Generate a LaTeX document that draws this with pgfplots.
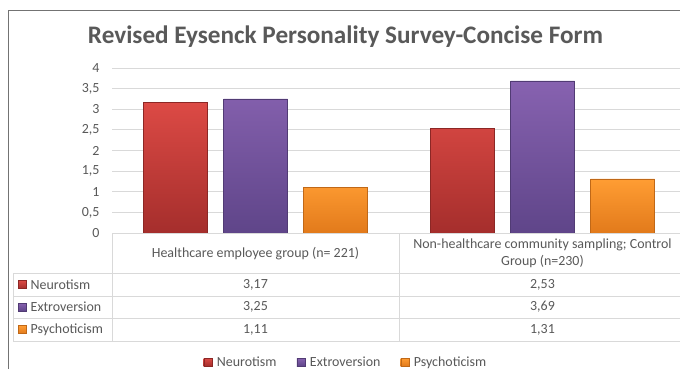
\documentclass[border=0pt]{standalone}
\usepackage{pgfplots}
\pgfplotsset{compat=1.18}
\usepackage{fontspec}
\setmainfont{Carlito}
\definecolor{txt}{HTML}{595959}
\definecolor{gridc}{HTML}{D9D9D9}
\definecolor{redT}{HTML}{DC4A45}
\definecolor{redB}{HTML}{A52E2C}
\definecolor{purT}{HTML}{8762B0}
\definecolor{purB}{HTML}{5F4589}
\definecolor{orT}{HTML}{FF9D33}
\definecolor{orB}{HTML}{E27A1B}
\begin{document}
\begin{tikzpicture}[x=1bp,y=1bp]
\fill[white] (0,0) rectangle (680,369);
\draw[color=black!55, line width=1bp] (8,0) -- (8,358) -- (690,358);
\node[font=\fontsize{25.3}{29}\selectfont\bfseries, text=txt, anchor=base] at (345.5,326) {Revised Eysenck Personality Survey-Concise Form};
\begin{axis}[
  at={(112bp,136bp)}, anchor=south west,
  scale only axis, width=574bp, height=165bp,
  xmin=-0.5, xmax=1.5, ymin=0, ymax=4,
  ybar=16bp, bar width=64bp,
  xtick=\empty,
  ytick={0,0.5,1,1.5,2,2.5,3,3.5,4},
  ymajorgrids, grid style={gridc, line width=0.8bp},
  axis line style={draw=none},
  major tick length=0pt,
  yticklabel style={font=\fontsize{14}{16}\selectfont, text=txt, xshift=-9bp,
    /pgf/number format/use comma, /pgf/number format/fixed,
    /pgf/number format/assume math mode=true},
  legend style={at={(0.4075,-0.782)}, anchor=center, draw=none, fill=none,
    font=\fontsize{14}{16}\selectfont, text=txt, inner sep=0pt,
    /tikz/every odd column/.append style={column sep=3bp},
    /tikz/every even column/.append style={column sep=18bp}},
  legend columns=-1,
  legend image code/.code={\path[#1] (0bp,-4bp) rectangle (8bp,4bp);},
  clip=false,
]
\addplot[draw=redB!85!black, top color=redT, bottom color=redB] coordinates {(0,3.17) (1,2.53)};
\addplot[draw=purB!85!black, top color=purT, bottom color=purB] coordinates {(0,3.25) (1,3.69)};
\addplot[draw=orB!85!black, top color=orT, bottom color=orB] coordinates {(0,1.11) (1,1.31)};
\legend{Neurotism, Extroversion, Psychoticism}
\end{axis}
\begin{scope}[draw=gridc, line width=0.8bp]
\draw (112,136) -- (690,136);
\foreach \y in {96,73,51,28} \draw (13,\y) -- (690,\y);
\draw (13,96) -- (13,28);
\draw (112,136) -- (112,28);
\draw (399,136) -- (399,28);
\end{scope}
\begin{scope}[font=\fontsize{14}{17}\selectfont, text=txt]
\node at (255.5,115) {Healthcare employee group (n= 221)};
\node[align=center] at (542.5,115.5) {Non-healthcare community sampling; Control\\Group (n=230)};
\shade[top color=redT, bottom color=redB, draw=redB!85!black] (18,80.5) rectangle (26,88.5);
\shade[top color=purT, bottom color=purB, draw=purB!85!black] (18,58) rectangle (26,66);
\shade[top color=orT, bottom color=orB, draw=orB!85!black] (18,35.5) rectangle (26,43.5);
\node[anchor=west, inner sep=0pt] at (30.5,84.5) {Neurotism};
\node[anchor=west, inner sep=0pt] at (30.5,62) {Extroversion};
\node[anchor=west, inner sep=0pt] at (30.5,39.5) {Psychoticism};
\node at (255.5,84.5) {3,17};
\node at (255.5,62) {3,25};
\node at (255.5,39.5) {1,11};
\node at (542.5,84.5) {2,53};
\node at (542.5,62) {3,69};
\node at (542.5,39.5) {1,31};
\end{scope}
\pgfresetboundingbox
\useasboundingbox (0,0) rectangle (680,369);
\end{tikzpicture}
\end{document}
